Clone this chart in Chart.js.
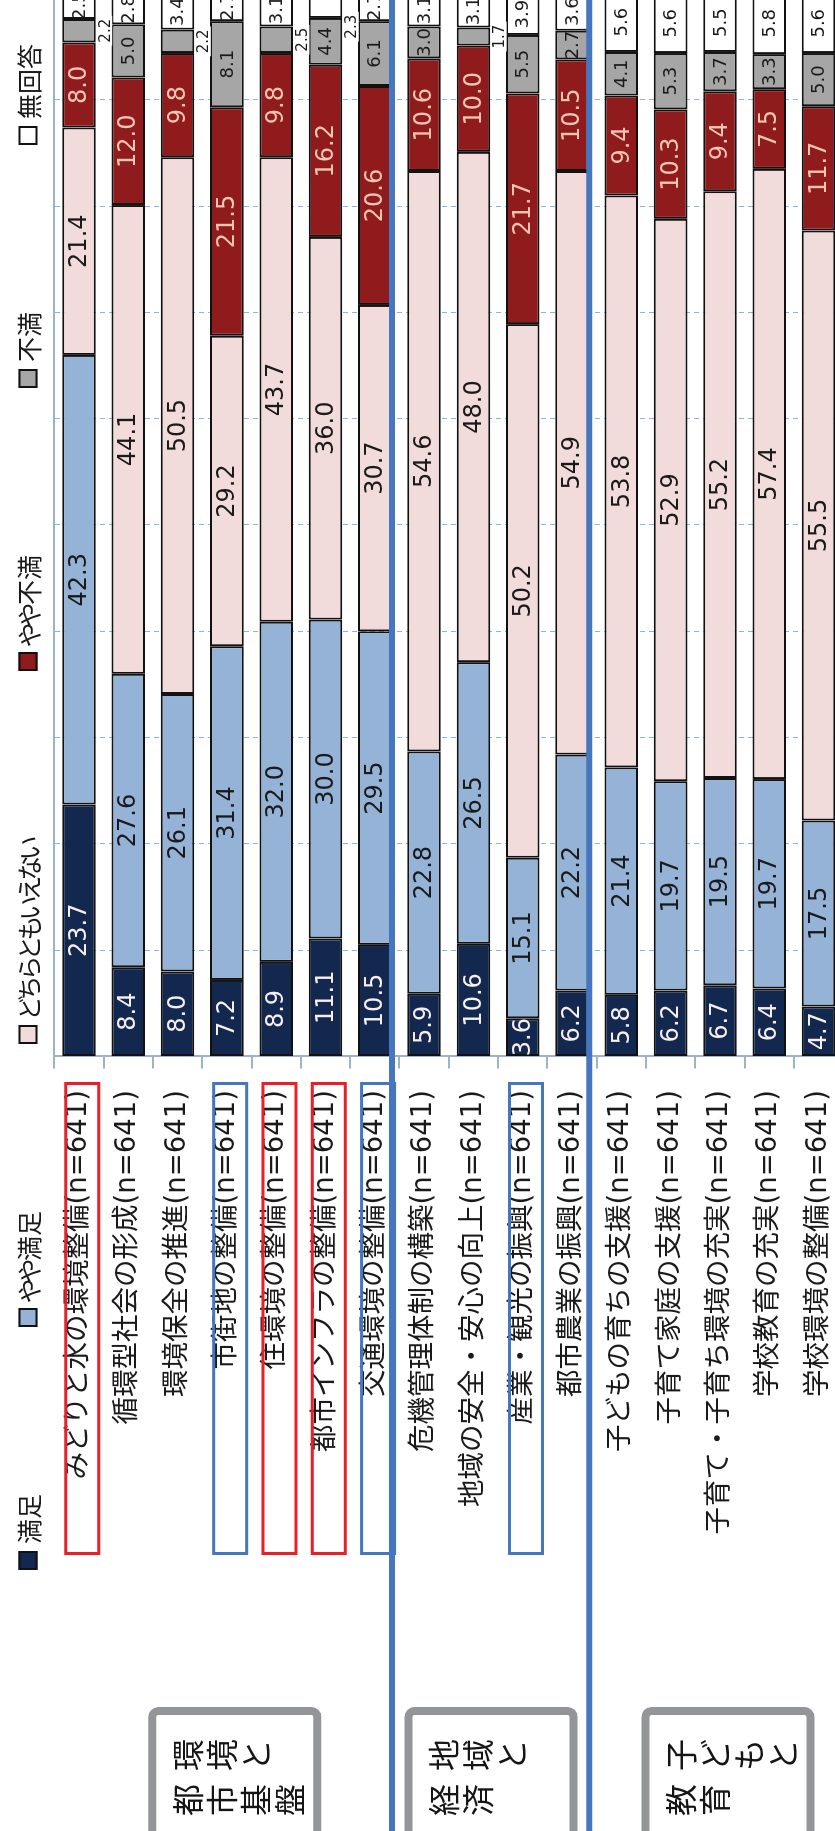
<!DOCTYPE html>
<html lang="ja">
<head>
<meta charset="utf-8">
<title>施策の満足度</title>
<script src="https://cdn.jsdelivr.net/npm/chart.js@4/dist/chart.umd.min.js"></script>
<style>
  html, body { margin: 0; padding: 0; width: 835px; height: 1831px; overflow: hidden; background: #ffffff; }
  /* the chart is laid out landscape and turned a quarter-turn onto the portrait page */
  #frame {
    position: absolute; left: 0; top: 0;
    width: 1831px; height: 835px; overflow: hidden; background: #ffffff;
    transform-origin: 0 0;
    transform: translate(0, 1831px) rotate(-90deg);
  }
  #chart { position: absolute; left: 0; top: 0; }
</style>
</head>
<body>
<div id="frame"><canvas id="chart" width="1860" height="900" style="width:1860px;height:900px"></canvas></div>
<script>
// ---- data ----
const categories = [
  'みどりと水の環境整備(n=641)',
  '循環型社会の形成(n=641)',
  '環境保全の推進(n=641)',
  '市街地の整備(n=641)',
  '住環境の整備(n=641)',
  '都市インフラの整備(n=641)',
  '交通環境の整備(n=641)',
  '危機管理体制の構築(n=641)',
  '地域の安全・安心の向上(n=641)',
  '産業・観光の振興(n=641)',
  '都市農業の振興(n=641)',
  '子どもの育ちの支援(n=641)',
  '子育て家庭の支援(n=641)',
  '子育て・子育ち環境の充実(n=641)',
  '学校教育の充実(n=641)',
  '学校環境の整備(n=641)'
];
const seriesNames = ['満足', 'やや満足', 'どちらともいえない', 'やや不満', '不満', '無回答'];

const satisfied            = [23.7, 8.4, 8.0, 7.2, 8.9, 11.1, 10.5, 5.9, 10.6, 3.6, 6.2, 5.8, 6.2, 6.7, 6.4, 4.7];
const somewhatSatisfied    = [42.3, 27.6, 26.1, 31.4, 32.0, 30.0, 29.5, 22.8, 26.5, 15.1, 22.2, 21.4, 19.7, 19.5, 19.7, 17.5];
const neutral              = [21.4, 44.1, 50.5, 29.2, 43.7, 36.0, 30.7, 54.6, 48.0, 50.2, 54.9, 53.8, 52.9, 55.2, 57.4, 55.5];
const somewhatDissatisfied = [8.0, 12.0, 9.8, 21.5, 9.8, 16.2, 20.6, 10.6, 10.0, 21.7, 10.5, 9.4, 10.3, 9.4, 7.5, 11.7];
const dissatisfied         = [2.2, 5.0, 2.2, 8.1, 2.5, 4.4, 6.1, 3.0, 1.7, 5.5, 2.7, 4.1, 5.3, 3.7, 3.3, 5.0];
const noAnswer             = [2.5, 2.8, 3.4, 2.7, 3.1, 2.3, 2.7, 3.1, 3.1, 3.9, 3.6, 5.6, 5.6, 5.5, 5.8, 5.6];

const seriesValues = [satisfied, somewhatSatisfied, neutral, somewhatDissatisfied, dissatisfied, noAnswer];

// policy fields and the categories each one covers
const groupNames  = [['環境と', '都市基盤'], ['地域と', '経済'], ['子どもと', '教育']];
const groupRanges = [[0, 6], [7, 10], [11, 15]];

// highlighted items
const redMarked  = [0, 4, 5];
const blueMarked = [3, 6, 9];

// ---- styling ----
const seriesColors = ['#13284f', '#95b3d7', '#f2dcdb', '#901b1c', '#a6a6a6', '#ffffff'];
const labelColors  = ['#f7eeee', '#1a1a1a', '#1a1a1a', '#f4c5b5', '#1a1a1a', '#1a1a1a'];
const labelSizes   = [24, 24, 24, 24, 18, 18];
// small segments whose value is written beside the bar (shift moves it along the bar, px)
const outsideLabels = [
  { cat: 0, series: 4, shift: 0 },
  { cat: 2, series: 4, shift: 0 },
  { cat: 4, series: 4, shift: 0 },
  { cat: 5, series: 5, shift: -21 },
  { cat: 8, series: 4, shift: 0 }
];
const numFont = '"DejaVu Sans", "Noto Sans CJK JP", sans-serif';
const jpFont  = '"Noto Sans CJK JP", sans-serif';
const axisColor = '#9fb3c8';

// draws a string with kana set slightly tighter than kanji (proportional kana); returns its width
function drawProportional(ctx, text, x, y) {
  let cx = x;
  for (const ch of text) {
    const w = ctx.measureText(ch).width;
    const isKana = /[\u3040-\u30ff]/.test(ch);
    const adv = isKana ? w * 0.8 : w;
    ctx.fillText(ch, cx - (w - adv) / 2, y);
    cx += adv;
  }
  return cx - x;
}

// values written on each segment
const segmentLabels = {
  id: 'segmentLabels',
  afterDatasetsDraw(chart) {
    const ctx = chart.ctx;
    ctx.save();
    ctx.textAlign = 'center';
    ctx.textBaseline = 'middle';
    chart.data.datasets.forEach((ds, si) => {
      const meta = chart.getDatasetMeta(si);
      meta.data.forEach((bar, ci) => {
        const v = ds.data[ci];
        const p = bar.getProps(['x', 'base', 'y', 'height'], true);
        const text = v.toFixed(1);
        const out = outsideLabels.find(o => o.cat === ci && o.series === si);
        if (out) {
          ctx.font = '15px ' + numFont;
          const cx = (p.x + p.base) / 2 + out.shift;
          const cy = p.y + p.height / 2 + 9;
          const w = ctx.measureText(text).width + 6;
          ctx.fillStyle = '#ffffff';
          ctx.fillRect(cx - w / 2, cy - 7.5, w, 15);
          ctx.fillStyle = '#1a1a1a';
          ctx.fillText(text, cx, cy + 1);
        } else {
          ctx.font = labelSizes[si] + 'px ' + numFont;
          ctx.fillStyle = labelColors[si];
          ctx.fillText(text, (p.x + p.base) / 2, p.y + 1);
        }
      });
    });
    ctx.restore();
  }
};

// legend strip, field boxes, highlight frames and field separators
const decorations = {
  id: 'decorations',
  afterDraw(chart) {
    const ctx = chart.ctx;
    const yScale = chart.scales.y;
    const band = yScale.getPixelForValue(1) - yScale.getPixelForValue(0);
    ctx.save();

    // legend
    ctx.font = '25px ' + jpFont;
    ctx.textBaseline = 'middle';
    ctx.textAlign = 'left';
    let lx = 261;
    const ly = 28, box = 19;
    chart.data.datasets.forEach((ds) => {
      ctx.fillStyle = ds.backgroundColor;
      ctx.fillRect(lx, ly - box / 2, box, box);
      ctx.lineWidth = 2;
      ctx.strokeStyle = '#111111';
      ctx.strokeRect(lx + 1, ly - box / 2 + 1, box - 2, box - 2);
      ctx.fillStyle = '#1a1a1a';
      const tw = drawProportional(ctx, ds.label, lx + box + 7, ly + 1);
      lx += box + 7 + tw + 167;
    });

    // highlight frames around item names
    ctx.lineWidth = 3;
    const frame = (cat, color) => {
      const cy = yScale.getPixelForValue(cat) + 3.3;
      ctx.strokeStyle = color;
      ctx.strokeRect(277.5, cy - 16.5, 470, 33);
    };
    redMarked.forEach(c => frame(c, '#e8202a'));
    blueMarked.forEach(c => frame(c, '#4677be'));

    // field boxes with vertical captions
    const boxShift = [8, -7, 8];
    groupRanges.forEach((r, gi) => {
      const center = (yScale.getPixelForValue(r[0]) + yScale.getPixelForValue(r[1])) / 2 + boxShift[gi];
      const top = center - 86.5;
      ctx.lineWidth = 8;
      ctx.strokeStyle = '#939598';
      ctx.beginPath();
      ctx.roundRect(-20, top + 4, 140, 165, 6);
      ctx.stroke();
      ctx.fillStyle = '#151515';
      ctx.font = '32px ' + jpFont;
      ctx.textAlign = 'center';
      ctx.textBaseline = 'middle';
      groupNames[gi].forEach((line, li) => {
        const colX = 76 - li * 45;
        Array.from(line).forEach((ch, k) => {
          ctx.fillText(ch, colX, top + 8 + 14 + 17 + k * 34);
        });
      });
    });

    // separators between fields
    ctx.strokeStyle = '#4677be';
    ctx.lineWidth = 6;
    for (let gi = 1; gi < groupRanges.length; gi++) {
      const y = yScale.getPixelForValue(groupRanges[gi][0]) - band / 2 - 7.5;
      ctx.beginPath();
      ctx.moveTo(0, y);
      ctx.lineTo(chart.width, y);
      ctx.stroke();
    }
    ctx.restore();
  }
};

new Chart(document.getElementById('chart'), {
  type: 'bar',
  data: {
    labels: categories,
    datasets: seriesNames.map((name, i) => ({
      label: name,
      data: seriesValues[i],
      backgroundColor: seriesColors[i],
      borderColor: '#111111',
      borderWidth: 2,
      borderSkipped: false,
      barPercentage: 0.68,
      categoryPercentage: 1.0
    }))
  },
  options: {
    indexAxis: 'y',
    responsive: false,
    animation: false,
    layout: { padding: { left: 0, right: 22.5, top: 54.3, bottom: 56.8 } },
    scales: {
      x: {
        position: 'top',
        stacked: true,
        min: 0,
        max: 100,
        ticks: { display: false, stepSize: 10 },
        grid: { color: 'rgba(95,160,205,0.75)', lineWidth: 1, drawTicks: false },
        border: { display: true, color: axisColor, width: 2, dash: [5, 4] }
      },
      y: {
        stacked: true,
        position: 'left',
        afterFit: (scale) => { scale.width = 774.5; },
        ticks: {
          color: '#1a1a1a',
          padding: 21.5,
          autoSkip: false,
          font: { family: '"DejaVu Sans", "Noto Sans CJK JP", sans-serif', size: 27.5 }
        },
        grid: { offset: true, drawOnChartArea: false, drawTicks: true, tickLength: 12, color: axisColor, lineWidth: 2 },
        border: { display: true, color: axisColor, width: 2 }
      }
    },
    plugins: {
      legend: { display: false },
      tooltip: { enabled: false }
    }
  },
  plugins: [segmentLabels, decorations]
});
</script>
</body>
</html>
